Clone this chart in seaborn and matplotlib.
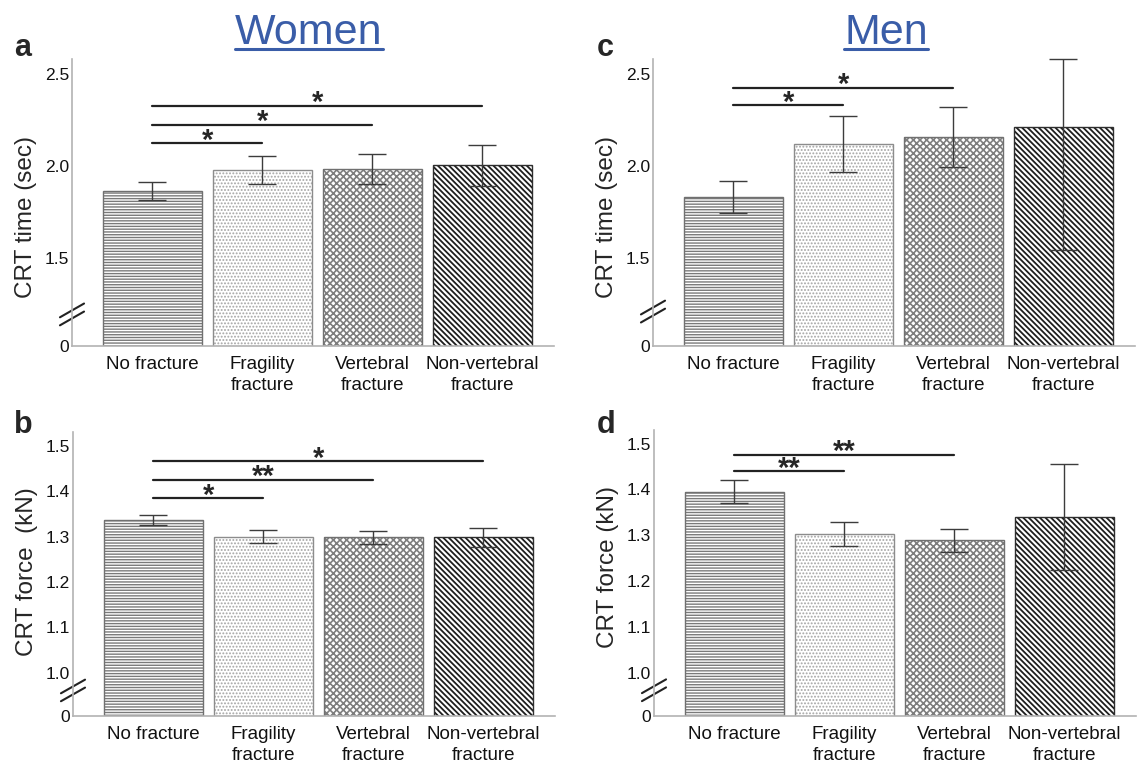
import numpy as np
import matplotlib
matplotlib.use("Agg")
import matplotlib.pyplot as plt
from matplotlib.lines import Line2D
import seaborn as sns

# data
categories = ["No fracture", "Fragility\nfracture", "Vertebral\nfracture", "Non-vertebral\nfracture"]

women_time = [1.862, 1.977, 1.982, 2.002]
women_time_err = [0.049, 0.075, 0.082, 0.111]
women_force = [1.337, 1.300, 1.298, 1.298]
women_force_err = [0.011, 0.014, 0.015, 0.020]

men_time = [1.832, 2.118, 2.156, 2.210]
men_time_err_low = [0.087, 0.151, 0.161, 0.667]
men_time_err_high = [0.087, 0.151, 0.161, 0.370]  # last one cut at the top of the axis
men_force = [1.395, 1.302, 1.289, 1.340]
men_force_err = [0.025, 0.026, 0.025, 0.116]

# significance brackets: (from, to, height, label)
sig_a = [(0, 1, 2.123, "*"), (0, 2, 2.223, "*"), (0, 3, 2.326, "*")]
sig_b = [(0, 1, 1.385, "*"), (0, 2, 1.425, "**"), (0, 3, 1.466, "*")]
sig_c = [(0, 1, 2.330, "*"), (0, 2, 2.424, "*")]
sig_d = [(0, 1, 1.440, "**"), (0, 2, 1.476, "**")]

time_ticks = [1.02, 1.5, 2.0, 2.5]
time_ticklabels = ["0", "1.5", "2.0", "2.5"]
force_ticks = [0.905, 1.0, 1.1, 1.2, 1.3, 1.4, 1.5]
force_ticklabels = ["0", "1.0", "1.1", "1.2", "1.3", "1.4", "1.5"]

hatches = ["------", ".....", "xxxxx", "\\" * 6]
hatch_colors = ["#7a7a7a", "#a4a4a4", "#7e7e7e", "#1e1e1e"]
hatch_widths = [1.0, 0.9, 1.2, 1.3]
edge_colors = ["#707070", "#8c8c8c", "#707070", "#2e2e2e"]

sns.set_style("white")
plt.rcParams["font.family"] = ["Liberation Sans", "DejaVu Sans"]
plt.rcParams["hatch.linewidth"] = 0.9

fig = plt.figure(figsize=(11.38, 7.66), dpi=100)
W, H = 1138, 766


def panel(rect, means, err, sigs, ylim, ticks, ticklabels, ylabel, label_y, break_y):
    ax = fig.add_axes(rect)
    # hatched fill
    sns.barplot(x=categories, y=means, ax=ax, errorbar=None, width=0.9,
                color="white", saturation=1)
    for i, p in enumerate(ax.patches):
        p.set_facecolor("white")
        p.set_edgecolor(hatch_colors[i])
        p.set_hatch(hatches[i])
        p.set_linewidth(0)
        if hasattr(p, "set_hatch_linewidth"):
            p.set_hatch_linewidth(hatch_widths[i])
    # outlines
    sns.barplot(x=categories, y=means, ax=ax, errorbar=None, width=0.9,
                fill=False, color="#707070", linewidth=1.0)
    for i, p in enumerate(ax.patches[len(categories):]):
        p.set_edgecolor(edge_colors[i])

    x = np.arange(len(categories))
    ax.errorbar(x, means, yerr=err, fmt="none", ecolor="#3c3c3c",
                elinewidth=1.0, capsize=10, capthick=1.0, clip_on=False, zorder=5)

    for a, b, h, s in sigs:
        ax.plot([a, b], [h, h], color="#222222", lw=1.6, clip_on=False)
        ax.annotate(s, xy=((a + b) / 2, h), xytext=(0, -4), textcoords="offset points",
                    ha="center", va="baseline", fontsize=21, fontweight="bold")

    ax.set_xlim(-0.73, 3.65)
    ax.set_ylim(*ylim)
    ax.set_yticks(ticks)
    ax.set_yticklabels(ticklabels)
    ax.tick_params(axis="both", length=0, colors="#111111")
    ax.tick_params(axis="y", labelsize=12.5, pad=2)
    ax.tick_params(axis="x", labelsize=13.5, pad=7)
    for lbl in ax.get_xticklabels():
        lbl.set_linespacing(1.3)
    ax.set_xlabel("")
    ax.set_ylabel(ylabel, fontsize=17.5)
    ax.yaxis.set_label_coords(-0.072, label_y)
    for side in ["top", "right"]:
        ax.spines[side].set_visible(False)
    for side in ["left", "bottom"]:
        ax.spines[side].set_color("#b3b3b3")
        ax.spines[side].set_linewidth(1.2)

    # axis break marks
    dx, dy, off = 0.025, 0.024, 0.014
    for o in (-off, off):
        ax.plot([-dx, dx], [break_y + o - dy, break_y + o + dy], color="#222222",
                lw=1.5, transform=ax.transAxes, clip_on=False)
    return ax


ax_a = panel([72 / W, 420 / H, 482 / W, 287 / H], women_time, women_time_err, sig_a,
             (1.02, 2.58), time_ticks, time_ticklabels, "CRT time (sec)", 0.45, 0.11)
ax_c = panel([653 / W, 420 / H, 482 / W, 287 / H], men_time,
             [men_time_err_low, men_time_err_high], sig_c,
             (1.02, 2.58), time_ticks, time_ticklabels, "CRT time (sec)", 0.45, 0.12)
ax_b = panel([73 / W, 50 / H, 482 / W, 284 / H], women_force, women_force_err, sig_b,
             (0.905, 1.53), force_ticks, force_ticklabels, "CRT force  (kN)", 0.51, 0.09)
ax_d = panel([654 / W, 50 / H, 482 / W, 286 / H], men_force, men_force_err, sig_d,
             (0.905, 1.53), force_ticks, force_ticklabels, "CRT force (kN)", 0.52, 0.09)

# panel letters
for txt, xp, yp in [("a", 14, 56), ("c", 597, 56), ("b", 14, 433), ("d", 597, 433)]:
    fig.text(xp / W, 1 - yp / H, txt, fontsize=22, fontweight="bold", va="baseline")

# underlined group titles
blue = "#3a5da8"
titles = []
for txt, xc in [("Women", 309), ("Men", 886)]:
    titles.append(fig.text(xc / W, 1 - 43.5 / H, txt, fontsize=31, color=blue,
                           ha="center", va="baseline"))
fig.canvas.draw()
renderer = fig.canvas.get_renderer()
for t in titles:
    bb = t.get_window_extent(renderer)
    fig.add_artist(Line2D([bb.x0 / W, bb.x1 / W], [1 - 49 / H, 1 - 49 / H],
                          color=blue, lw=2.2, transform=fig.transFigure))

fig.savefig("out.png", dpi=100)
